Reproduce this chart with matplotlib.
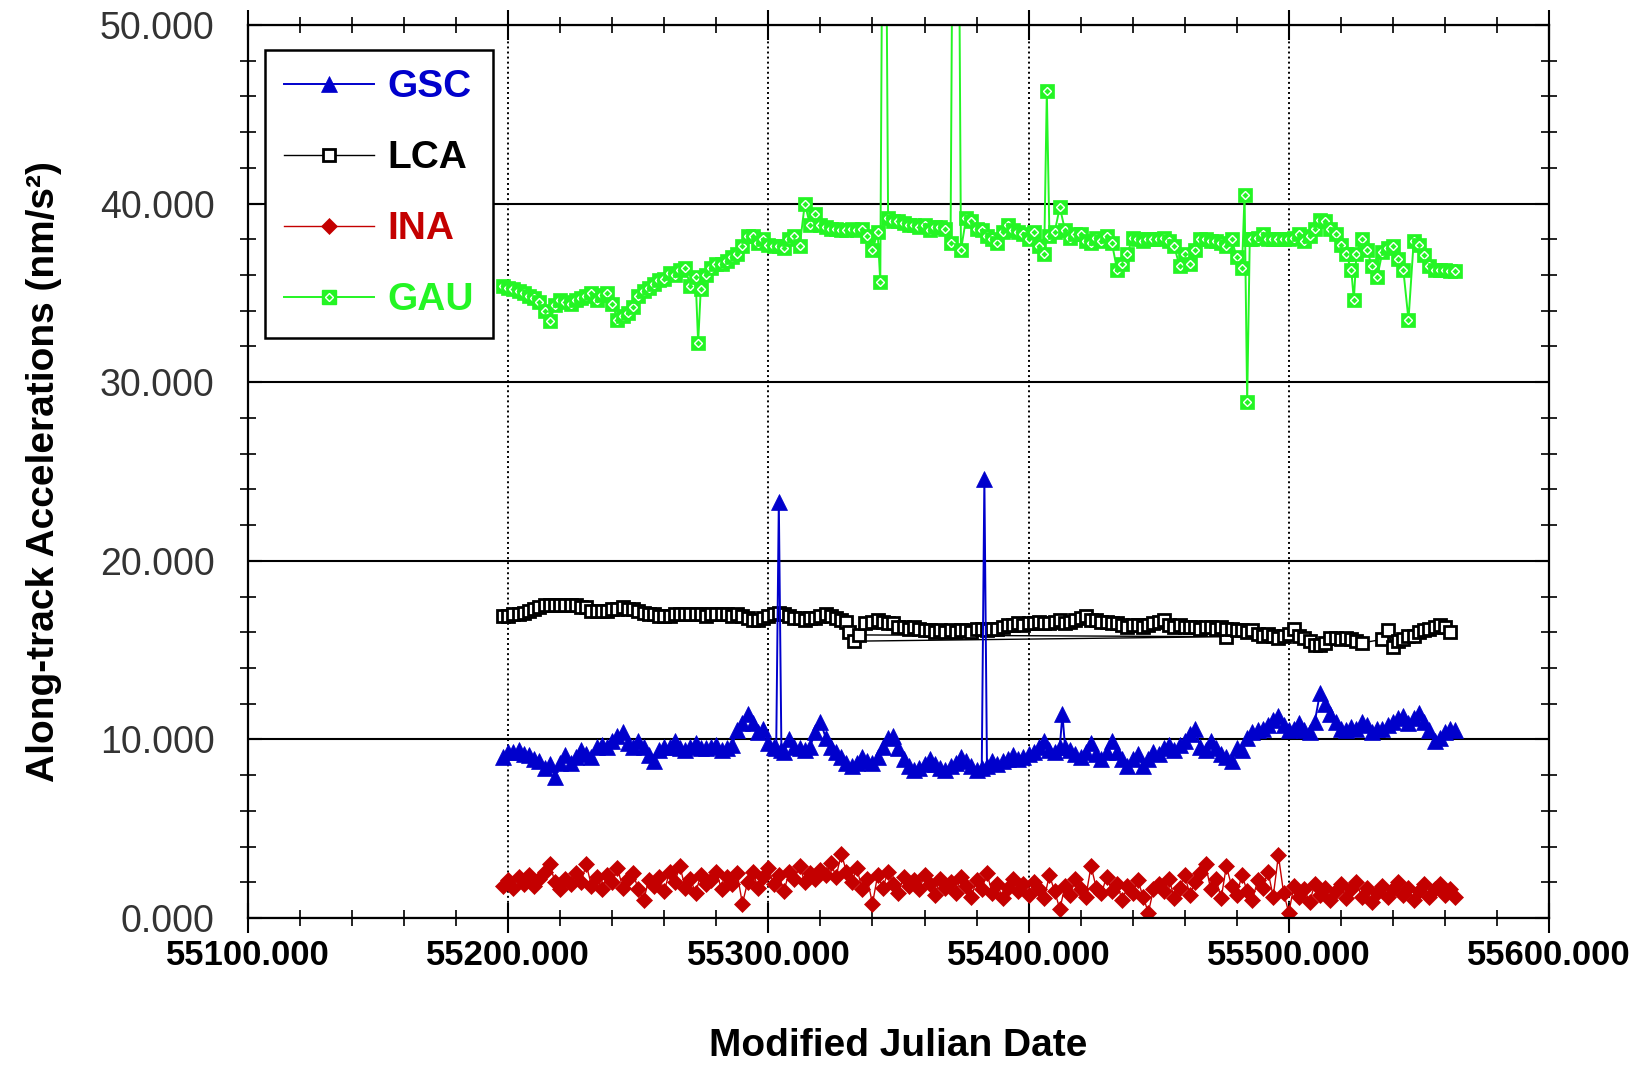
import matplotlib
matplotlib.use("Agg")
import matplotlib.pyplot as plt
from matplotlib.lines import Line2D
from matplotlib.legend_handler import HandlerTuple
from matplotlib.ticker import MultipleLocator, FormatStrFormatter

plt.rcParams["font.family"] = ["Liberation Sans", "DejaVu Sans"]

# --- along-track accelerations per analysis centre (nm/s^2) vs MJD ---

GSC_MJD = [55198, 55200, 55202, 55204, 55206, 55208, 55210, 55212, 55214, 55216,
           55218, 55220, 55222, 55224, 55226, 55228, 55230, 55232, 55234, 55236,
           55238, 55240, 55242, 55244, 55246, 55248, 55250, 55252, 55254, 55256,
           55258, 55260, 55262, 55264, 55266, 55268, 55270, 55272, 55274, 55276,
           55278, 55280, 55282, 55284, 55286, 55288, 55290, 55292, 55294, 55296,
           55298, 55300, 55302, 55303, 55304, 55305, 55306, 55308, 55310, 55312,
           55314, 55316, 55318, 55320, 55322, 55324, 55326, 55328, 55330, 55332,
           55334, 55336, 55338, 55340, 55342, 55344, 55346, 55348, 55350, 55352,
           55354, 55356, 55358, 55360, 55362, 55364, 55366, 55368, 55370, 55372,
           55374, 55376, 55378, 55380, 55382, 55383, 55384, 55386, 55388, 55390,
           55392, 55394, 55396, 55398, 55400, 55402, 55404, 55406, 55408, 55410,
           55412, 55413, 55414, 55416, 55418, 55420, 55422, 55424, 55426, 55428,
           55430, 55432, 55434, 55436, 55438, 55440, 55442, 55444, 55446, 55448,
           55450, 55452, 55454, 55456, 55458, 55460, 55462, 55464, 55466, 55468,
           55470, 55472, 55474, 55476, 55478, 55480, 55482, 55484, 55486, 55488,
           55490, 55492, 55494, 55496, 55498, 55500, 55502, 55504, 55506, 55508,
           55510, 55512, 55514, 55516, 55518, 55520, 55522, 55524, 55526, 55528,
           55530, 55532, 55534, 55536, 55538, 55540, 55542, 55544, 55546, 55548,
           55550, 55552, 55554, 55556, 55558, 55560, 55562, 55564]
GSC_VAL = [9.0, 9.3, 9.3, 9.4, 9.2, 9.1, 8.9, 8.8, 8.4, 8.6,
           7.9, 8.7, 9.1, 8.7, 9.0, 9.4, 9.2, 9.0, 9.6, 9.7,
           9.6, 9.9, 10.2, 10.4, 9.8, 9.6, 9.9, 9.6, 9.1, 8.8,
           9.4, 9.6, 9.6, 9.9, 9.5, 9.4, 9.6, 9.8, 9.5, 9.5,
           9.6, 9.7, 9.4, 9.5, 9.7, 10.5, 10.9, 11.4, 10.9, 10.4,
           10.6, 9.8, 9.6, 9.5, 23.3, 9.4, 9.3, 10.0, 9.6, 9.5,
           9.4, 9.6, 10.4, 11.0, 10.1, 9.6, 9.3, 9.0, 8.7, 8.5,
           8.7, 9.0, 8.8, 8.7, 9.0, 9.6, 10.1, 10.2, 9.5, 8.9,
           8.5, 8.3, 8.4, 8.6, 8.9, 8.6, 8.4, 8.3, 8.5, 8.7,
           9.0, 8.8, 8.5, 8.3, 8.4, 24.6, 8.5, 8.8, 8.6, 8.8,
           8.9, 9.1, 8.9, 9.0, 9.2, 9.3, 9.6, 9.9, 9.4, 9.3,
           9.6, 11.4, 9.6, 9.4, 9.2, 9.0, 9.3, 9.8, 9.2, 8.9,
           9.3, 9.9, 9.3, 8.9, 8.5, 8.9, 9.2, 8.5, 8.9, 9.3,
           9.2, 9.5, 9.7, 9.4, 9.7, 9.9, 10.3, 10.6, 9.6, 9.4,
           9.9, 9.5, 9.2, 9.0, 8.8, 9.5, 9.4, 10.1, 10.4, 10.5,
           10.6, 10.8, 11.1, 11.3, 10.8, 10.5, 10.6, 10.9, 10.5, 10.4,
           11.0, 12.6, 12.0, 11.4, 11.0, 10.6, 10.5, 10.7, 10.6, 11.0,
           10.8, 10.4, 10.6, 10.6, 10.8, 11.0, 11.2, 11.3, 10.9, 11.2,
           11.5, 11.0, 10.5, 9.9, 10.1, 10.4, 10.6, 10.5]

# LCA file has one record out of order (55476 after 55333)
LCA_MJD = [55198, 55200, 55202, 55204, 55206, 55208, 55210, 55212, 55214, 55216,
           55218, 55220, 55222, 55224, 55226, 55228, 55230, 55232, 55234, 55236,
           55238, 55240, 55242, 55244, 55246, 55248, 55250, 55252, 55254, 55256,
           55258, 55260, 55262, 55264, 55266, 55268, 55270, 55272, 55274, 55276,
           55278, 55280, 55282, 55284, 55286, 55288, 55290, 55292, 55294, 55296,
           55298, 55300, 55302, 55304, 55306, 55308, 55310, 55312, 55314, 55316,
           55318, 55320, 55322, 55324, 55326, 55328, 55330, 55331, 55333, 55476,
           55335, 55337, 55340, 55342, 55344, 55346, 55348, 55350, 55352, 55354,
           55356, 55358, 55360, 55362, 55364, 55366, 55368, 55370, 55372, 55374,
           55376, 55378, 55380, 55382, 55384, 55386, 55388, 55390, 55392, 55394,
           55396, 55398, 55400, 55402, 55404, 55406, 55408, 55410, 55412, 55414,
           55416, 55418, 55420, 55422, 55424, 55426, 55428, 55430, 55432, 55434,
           55436, 55438, 55440, 55442, 55444, 55446, 55448, 55450, 55452, 55454,
           55456, 55458, 55460, 55462, 55464, 55466, 55468, 55470, 55472, 55474,
           55476, 55478, 55480, 55482, 55484, 55486, 55488, 55490, 55492, 55494,
           55496, 55498, 55500, 55502, 55504, 55506, 55508, 55510, 55512, 55514,
           55516, 55518, 55520, 55522, 55524, 55526, 55528, 55536, 55538, 55540,
           55542, 55544, 55546, 55548, 55550, 55552, 55554, 55556, 55558, 55560,
           55562]
LCA_VAL = [16.9, 16.9, 17.0, 17.0, 17.1, 17.2, 17.3, 17.4, 17.5, 17.5,
           17.5, 17.5, 17.5, 17.5, 17.5, 17.4, 17.4, 17.2, 17.2, 17.2,
           17.2, 17.3, 17.3, 17.4, 17.3, 17.3, 17.2, 17.1, 17.0, 17.0,
           16.9, 16.9, 16.9, 17.0, 17.0, 17.0, 17.0, 17.0, 17.0, 16.9,
           17.0, 17.0, 17.0, 17.0, 16.9, 17.0, 16.9, 16.8, 16.7, 16.7,
           16.8, 16.9, 17.0, 17.1, 17.0, 16.9, 16.8, 16.8, 16.7, 16.8,
           16.8, 16.9, 17.0, 16.9, 16.8, 16.7, 16.6, 16.0, 15.5, 15.75,
           15.85, 16.5, 16.6, 16.7, 16.6, 16.5, 16.5, 16.3, 16.3, 16.2,
           16.3, 16.2, 16.1, 16.1, 16.0, 16.1, 16.0, 16.1, 16.0, 16.1,
           16.1, 16.0, 16.2, 16.2, 16.1, 16.2, 16.2, 16.3, 16.4, 16.4,
           16.5, 16.4, 16.5, 16.5, 16.6, 16.5, 16.5, 16.6, 16.7, 16.5,
           16.6, 16.7, 16.8, 16.9, 16.7, 16.7, 16.6, 16.6, 16.5, 16.5,
           16.4, 16.3, 16.4, 16.4, 16.3, 16.4, 16.5, 16.6, 16.7, 16.4,
           16.3, 16.4, 16.3, 16.3, 16.3, 16.2, 16.3, 16.3, 16.2, 16.3,
           16.2, 16.2, 16.1, 16.1, 16.0, 16.1, 15.9, 15.8, 15.9, 15.8,
           15.7, 15.8, 15.9, 16.2, 15.8, 15.7, 15.5, 15.3, 15.3, 15.4,
           15.7, 15.7, 15.6, 15.7, 15.6, 15.5, 15.4, 15.6, 16.1, 15.2,
           15.5, 15.6, 15.8, 15.8, 16.0, 16.1, 16.2, 16.3, 16.4, 16.3,
           16.0]

INA_MJD = [55198, 55200, 55202, 55204, 55206, 55208, 55210, 55212, 55214, 55216,
           55218, 55220, 55222, 55224, 55226, 55228, 55230, 55232, 55234, 55236,
           55238, 55240, 55242, 55244, 55246, 55248, 55250, 55252, 55254, 55256,
           55258, 55260, 55262, 55264, 55266, 55268, 55270, 55272, 55274, 55276,
           55278, 55280, 55282, 55284, 55286, 55288, 55290, 55292, 55294, 55296,
           55298, 55300, 55302, 55304, 55306, 55308, 55310, 55312, 55314, 55316,
           55318, 55320, 55322, 55324, 55326, 55328, 55330, 55332, 55334, 55336,
           55338, 55340, 55342, 55344, 55346, 55348, 55350, 55352, 55354, 55356,
           55358, 55360, 55362, 55364, 55366, 55368, 55370, 55372, 55374, 55376,
           55378, 55380, 55382, 55384, 55386, 55388, 55390, 55392, 55394, 55396,
           55398, 55400, 55402, 55404, 55406, 55408, 55410, 55412, 55414, 55416,
           55418, 55420, 55422, 55424, 55426, 55428, 55430, 55432, 55434, 55436,
           55438, 55440, 55442, 55444, 55446, 55448, 55450, 55452, 55454, 55456,
           55458, 55460, 55462, 55464, 55466, 55468, 55470, 55472, 55474, 55476,
           55478, 55480, 55482, 55484, 55486, 55488, 55490, 55492, 55494, 55496,
           55498, 55500, 55502, 55504, 55506, 55508, 55510, 55512, 55514, 55516,
           55518, 55520, 55522, 55524, 55526, 55528, 55530, 55532, 55534, 55536,
           55538, 55540, 55542, 55544, 55546, 55548, 55550, 55552, 55554, 55556,
           55558, 55560, 55562, 55564]
INA_VAL = [1.8, 2.1, 1.7, 2.3, 1.9, 2.4, 1.8, 2.2, 2.6, 3.0,
           2.0, 1.6, 2.2, 1.9, 2.5, 2.0, 3.0, 1.8, 2.3, 1.6,
           2.4, 2.0, 2.8, 1.7, 2.2, 2.5, 1.6, 1.0, 2.1, 1.8,
           2.3, 1.5, 2.6, 2.0, 2.9, 1.7, 2.2, 1.4, 2.4, 1.9,
           2.1, 2.6, 1.6, 2.3, 1.9, 2.5, 0.8, 2.0, 2.6, 1.7,
           2.3, 2.8, 1.9, 2.4, 1.5, 2.6, 2.2, 2.9, 2.0, 2.5,
           2.2, 2.7, 2.4, 3.1, 2.3, 3.6, 2.6, 2.0, 2.8, 1.6,
           2.2, 0.8, 2.4, 1.7, 2.6, 1.9, 1.4, 2.3, 1.8, 2.1,
           1.6, 2.4, 1.9, 1.3, 2.2, 1.7, 2.0, 1.4, 2.3, 1.8,
           1.2, 2.1, 1.6, 2.5, 1.4, 1.9, 1.1, 1.7, 2.2, 1.5,
           1.9, 1.3, 2.0, 1.6, 1.1, 2.4, 1.5, 0.5, 1.8, 1.3,
           2.2, 1.6, 1.2, 2.9, 1.7, 1.4, 2.3, 1.5, 1.9, 1.0,
           1.8, 1.4, 2.1, 1.2, 0.3, 1.6, 1.9, 1.5, 2.2, 1.1,
           1.7, 2.4, 1.3, 2.0, 2.5, 3.0, 1.6, 2.2, 1.1, 2.9,
           1.8, 1.3, 2.4, 1.5, 1.0, 2.1, 1.7, 2.6, 1.2, 3.5,
           1.4, 0.3, 1.8, 1.2, 1.6, 0.9, 1.9, 1.3, 1.7, 1.0,
           1.5, 1.9, 1.1, 1.6, 2.0, 1.2, 1.7, 0.9, 1.4, 1.8,
           1.2, 1.6, 2.0, 1.3, 1.7, 1.0, 1.5, 1.9, 1.2, 1.6,
           1.9, 1.3, 1.6, 1.2]

# values above 50 are off-scale spikes
GAU_MJD = [55198, 55200, 55202, 55204, 55206, 55208, 55210, 55212, 55214, 55216,
           55218, 55220, 55222, 55224, 55226, 55228, 55230, 55232, 55234, 55236,
           55238, 55240, 55242, 55244, 55246, 55248, 55250, 55252, 55254, 55256,
           55258, 55260, 55262, 55264, 55266, 55268, 55270, 55272, 55273, 55274,
           55276, 55278, 55280, 55282, 55284, 55286, 55288, 55290, 55292, 55294,
           55296, 55298, 55300, 55302, 55304, 55306, 55308, 55310, 55312, 55314,
           55316, 55318, 55320, 55322, 55324, 55326, 55328, 55330, 55332, 55334,
           55336, 55338, 55340, 55342, 55343, 55344, 55345, 55346, 55348, 55350,
           55352, 55354, 55356, 55358, 55360, 55362, 55364, 55366, 55368, 55370,
           55371, 55373, 55374, 55376, 55378, 55380, 55382, 55384, 55386, 55388,
           55390, 55392, 55394, 55396, 55398, 55400, 55402, 55404, 55406, 55407,
           55408, 55410, 55412, 55414, 55416, 55418, 55420, 55422, 55424, 55426,
           55428, 55430, 55432, 55434, 55436, 55438, 55440, 55442, 55444, 55446,
           55448, 55450, 55452, 55454, 55456, 55458, 55460, 55462, 55464, 55466,
           55468, 55470, 55472, 55474, 55476, 55478, 55480, 55482, 55483, 55484,
           55485, 55486, 55488, 55490, 55492, 55494, 55496, 55498, 55500, 55502,
           55504, 55506, 55508, 55510, 55512, 55514, 55516, 55518, 55520, 55522,
           55524, 55525, 55526, 55528, 55530, 55532, 55534, 55536, 55538, 55540,
           55542, 55544, 55546, 55548, 55550, 55552, 55554, 55556, 55558, 55560,
           55562, 55564]
GAU_VAL = [35.4, 35.3, 35.2, 35.1, 35.0, 34.8, 34.7, 34.5, 34.0, 33.4,
           34.3, 34.6, 34.5, 34.4, 34.6, 34.7, 34.8, 35.0, 34.6, 34.9,
           35.0, 34.4, 33.5, 33.7, 33.9, 34.2, 34.8, 35.1, 35.3, 35.5,
           35.7, 35.8, 36.1, 36.0, 36.3, 36.4, 35.4, 35.9, 32.2, 35.2,
           36.0, 36.4, 36.6, 36.6, 36.8, 37.0, 37.2, 37.6, 38.2, 38.2,
           37.8, 38.0, 37.7, 37.6, 37.6, 37.5, 38.0, 38.2, 37.6, 40.0,
           38.8, 39.4, 38.8, 38.7, 38.6, 38.6, 38.5, 38.5, 38.6, 38.5,
           38.6, 38.2, 37.4, 38.4, 35.6, 62.0, 62.0, 39.2, 39.0, 39.0,
           38.9, 38.8, 38.8, 38.7, 38.8, 38.5, 38.7, 38.7, 38.6, 37.8,
           62.0, 62.0, 37.4, 39.2, 39.0, 38.6, 38.5, 38.2, 38.0, 37.8,
           38.4, 38.8, 38.5, 38.4, 38.3, 38.0, 38.4, 37.6, 37.2, 46.3,
           38.2, 38.4, 39.8, 38.5, 38.1, 38.3, 38.3, 37.9, 37.8, 38.1,
           37.9, 38.2, 37.8, 36.3, 36.6, 37.2, 38.1, 38.0, 37.9, 38.0,
           38.0, 38.0, 38.1, 37.9, 37.6, 36.5, 37.2, 36.6, 37.4, 38.0,
           38.0, 37.9, 37.9, 37.8, 37.6, 38.0, 37.0, 36.4, 40.5, 28.9,
           38.0, 38.0, 38.1, 38.3, 38.0, 38.0, 38.0, 38.0, 38.0, 38.1,
           38.3, 37.9, 38.2, 38.6, 39.1, 39.0, 38.6, 38.3, 37.7, 37.2,
           36.3, 34.6, 37.2, 38.0, 37.4, 36.5, 35.9, 37.3, 37.5, 37.6,
           36.9, 36.3, 33.5, 37.9, 37.7, 37.1, 36.5, 36.3, 36.3, 36.3,
           36.2, 36.2]

BLUE = "#0000CC"
RED = "#C40000"
GREEN = "#24F524"

fig = plt.figure(figsize=(16.41, 10.66), dpi=100)
ax = fig.add_axes([248 / 1641, 1 - 918 / 1066, 1301 / 1641, 893 / 1066])

lca, = ax.plot(LCA_MJD, LCA_VAL, color="black", lw=1.0, marker="s", ms=9,
               mfc="white", mec="black", mew=2.0)
gsc, = ax.plot(GSC_MJD, GSC_VAL, color=BLUE, lw=1.4, marker="^", ms=11,
               mfc=BLUE, mec=BLUE, mew=0.5)
ina, = ax.plot(INA_MJD, INA_VAL, color=RED, lw=1.0, marker="D", ms=8.5,
               mfc=RED, mec=RED, mew=0.5)
ax.plot(GAU_MJD, GAU_VAL, color=GREEN, lw=1.4)
# square + small open diamond, drawn point by point so later ones cover earlier
for d, v in zip(GAU_MJD, GAU_VAL):
    ax.plot(d, v, ls="none", marker="s", ms=10.5, mfc=GREEN, mec=GREEN, mew=0.5)
    ax.plot(d, v, ls="none", marker="D", ms=4.5, mfc=GREEN, mec="white", mew=1.0)

ax.set_xlim(55100, 55600)
ax.set_ylim(0, 50)
ax.xaxis.set_major_locator(MultipleLocator(100))
ax.xaxis.set_minor_locator(MultipleLocator(20))
ax.yaxis.set_major_locator(MultipleLocator(10))
ax.yaxis.set_minor_locator(MultipleLocator(2))
ax.xaxis.set_major_formatter(FormatStrFormatter("%.3f"))
ax.yaxis.set_major_formatter(FormatStrFormatter("%.3f"))

ax.set_axisbelow(True)
ax.yaxis.grid(True, which="major", color="black", lw=1.5, ls="-")
ax.xaxis.grid(True, which="major", color="black", lw=1.4, ls=(0, (1, 1.6)))
for s in ax.spines.values():
    s.set_linewidth(1.6)

ax.tick_params(axis="x", which="major", direction="inout", length=22, width=1.5,
               top=True, pad=4, labelsize=25)
ax.tick_params(axis="x", which="minor", direction="inout", length=12, width=1.2, top=True)
ax.tick_params(axis="y", which="major", direction="in", length=10, width=1.5,
               right=True, pad=24, labelsize=27, labelcolor="#333333")
ax.tick_params(axis="y", which="minor", direction="inout", length=12, width=1.2, right=True)
plt.setp(ax.get_xticklabels(), fontweight="bold")

# axis titles placed in figure pixels
fig.text(898.5 / 1641, 1 - 1046 / 1066, "Modified Julian Date",
         ha="center", va="center", fontsize=28, fontweight="bold")
ax.set_ylabel("Along-track Accelerations (nm/s²)", fontsize=28, fontweight="bold")
ax.yaxis.set_label_coords((44 - 248) / 1301, 0.5)
ax.yaxis.label.set_va("center")

gau_handle = (Line2D([], [], color=GREEN, lw=1.4, marker="s", ms=10.5, mfc=GREEN, mec=GREEN),
              Line2D([], [], ls="none", marker="D", ms=4.5, mfc=GREEN, mec="white", mew=1.0))
leg = ax.legend([gsc, lca, ina, gau_handle], ["GSC", "LCA", "INA", "GAU"],
                handler_map={tuple: HandlerTuple(ndivide=1)},
                loc="upper left", bbox_to_anchor=(17 / 1301, (918 - 50) / 893),
                borderaxespad=0, numpoints=1, handlelength=2.3, handletextpad=0.35,
                labelspacing=0.9, borderpad=0.5, fancybox=False, framealpha=1,
                prop={"size": 28, "weight": "bold"})
leg.get_frame().set_edgecolor("black")
leg.get_frame().set_linewidth(1.8)
for txt, col in zip(leg.get_texts(), [BLUE, "black", RED, GREEN]):
    txt.set_color(col)

fig.savefig("out.png", dpi=100)
